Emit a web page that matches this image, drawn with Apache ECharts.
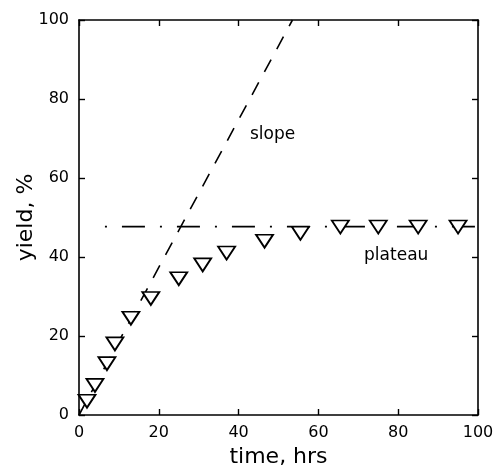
<!DOCTYPE html>
<html lang="en">
  <head>
    <meta charset="UTF-8" />
    <title>yield vs time</title>
    <style>
      * {
        margin: 0;
        padding: 0;
      }
      body {
        background: #fff;
      }
    </style>
  </head>

  <body>
    <div id="main" style="width: 494px; height: 469px"></div>
  </body>

  <script src="https://cdn.jsdelivr.net/npm/echarts@6/dist/echarts.min.js"></script>
  <script>
    // 测量点 (时间, 产率)
    const timeHrs = [2, 4, 7, 9, 13, 18, 25, 31, 37, 46.5, 55.5, 65.5, 75, 85, 95];
    const yieldPct = [3.5, 7.5, 13, 18, 24.5, 29.5, 34.5, 38, 41, 44, 46, 47.6, 47.6, 47.6, 47.6];

    // 初始斜率线 与 平台线
    const slopeLine = [[0, 0], [53.5, 100]];
    const plateauLine = [[6.5, 47.7], [100, 47.7]];

    // 文字标注
    const notes = [
      { name: "slope", value: [48.5, 71] },
      { name: "plateau", value: [79.5, 40.3] },
    ];

    const xTicks = [0, 20, 40, 60, 80, 100];
    const yTicks = [0, 20, 40, 60, 80, 100];

    const font = "DejaVu Sans";
    const ink = "#000";

    var myChart = echarts.init(document.getElementById("main"));

    const axisBase = {
      type: "value",
      min: 0,
      max: 100,
      interval: 20,
      splitLine: { show: false },
      axisLine: { show: true, onZero: false, lineStyle: { color: ink, width: 1.6 } },
      axisTick: { show: true, inside: true, length: 6, lineStyle: { color: ink, width: 1.4 } },
    };

    let option = {
      animation: false,
      backgroundColor: "#fff",
      // 固定绘图区，不让名字挤压坐标轴
      grid: { left: 79, right: 16, top: 20, bottom: 54, outerBoundsMode: "none", containLabel: false },
      xAxis: [
        Object.assign({}, axisBase, {
          position: "bottom",
          name: "time, hrs",
          nameLocation: "middle",
          nameGap: 31,
          nameTextStyle: { fontFamily: font, fontSize: 22, color: ink },
          axisLabel: {
            fontFamily: font,
            fontSize: 16,
            color: ink,
            margin: 10,
            formatter: (v) => (xTicks.includes(v) ? String(v) : ""),
          },
        }),
        Object.assign({}, axisBase, {
          position: "top",
          axisLabel: { show: false },
        }),
      ],
      yAxis: [
        Object.assign({}, axisBase, {
          position: "left",
          name: "yield, %",
          nameLocation: "middle",
          nameGap: 42,
          nameMoveOverlap: false,
          nameTextStyle: { fontFamily: font, fontSize: 22, color: ink },
          axisLabel: {
            fontFamily: font,
            fontSize: 16,
            color: ink,
            margin: 10,
            formatter: (v) => (yTicks.includes(v) ? String(v) : ""),
          },
        }),
        Object.assign({}, axisBase, {
          position: "right",
          axisLabel: { show: false },
        }),
      ],
      series: [
        {
          type: "line",
          data: slopeLine,
          symbol: "none",
          silent: true,
          lineStyle: { color: ink, width: 1.6, type: [14, 12] },
        },
        {
          type: "line",
          data: plateauLine,
          symbol: "none",
          silent: true,
          lineStyle: { color: ink, width: 1.6, type: [2, 15, 23, 15] },
        },
        {
          type: "scatter",
          data: timeHrs.map((t, i) => [t, yieldPct[i]]),
          symbol: "triangle",
          symbolRotate: 180,
          symbolSize: [17, 13],
          itemStyle: { color: "#fff", borderColor: ink, borderWidth: 1.8, opacity: 1 },
          z: 5,
        },
        {
          type: "scatter",
          data: notes,
          symbolSize: 0,
          silent: true,
          itemStyle: { opacity: 1 },
          label: {
            show: true,
            position: "inside",
            formatter: (p) => p.name,
            fontFamily: font,
            fontSize: 17,
            color: ink,
          },
        },
      ],
    };

    myChart.setOption(option);
  </script>
</html>
